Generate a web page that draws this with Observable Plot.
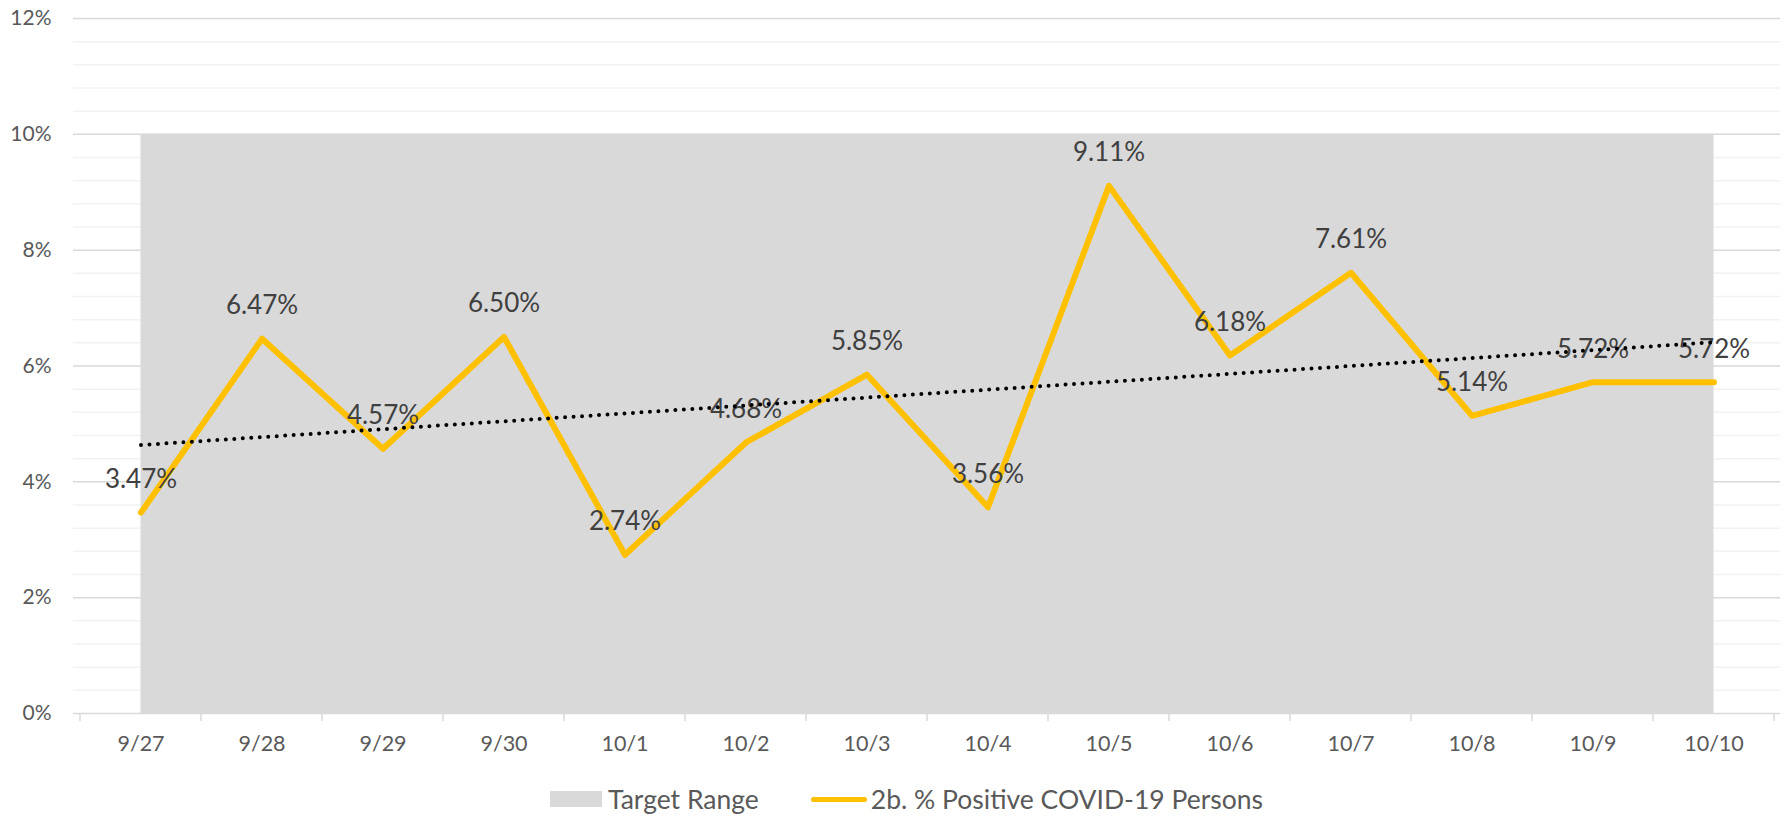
<!DOCTYPE html>
<html>
<head>
<meta charset="utf-8">
<script src="https://cdn.jsdelivr.net/npm/d3@7"></script>
<script src="https://cdn.jsdelivr.net/npm/@observablehq/plot@0.6"></script>
<style>
  html, body { margin: 0; padding: 0; background: #fff; }
  #wrap { position: relative; width: 1788px; height: 817px; font-family: Lato, "Open Sans", sans-serif; }
  #chart svg { display: block; }
  #legend { position: absolute; left: 550px; top: 783px; display: flex; align-items: center; font-size: 26.5px; color: #595959; white-space: nowrap; }
  .sw-rect { width: 52px; height: 16px; background: #D9D9D9; margin-right: 6px; }
  .sw-line { width: 56px; height: 5px; background: #FFC000; border-radius: 3px; margin-left: 52px; margin-right: 4px; }
</style>
</head>
<body>
<div id="wrap">
  <div id="chart"></div>
  <div id="legend">
    <div class="sw-rect"></div><span>Target Range</span>
    <div class="sw-line"></div><span>2b. % Positive COVID-19 Persons</span>
  </div>
</div>
<script>
const dates = ["9/27","9/28","9/29","9/30","10/1","10/2","10/3","10/4","10/5","10/6","10/7","10/8","10/9","10/10"];
const positive = [3.47, 6.47, 4.57, 6.50, 2.74, 4.68, 5.85, 3.56, 9.11, 6.18, 7.61, 5.14, 5.72, 5.72];
const targetRange = [0, 10];
const yMajorTicks = [0, 2, 4, 6, 8, 10, 12];
const yMinorTicks = [0.4, 0.8, 1.2, 1.6, 2.4, 2.8, 3.2, 3.6, 4.4, 4.8, 5.2, 5.6, 6.4, 6.8, 7.2, 7.6, 8.4, 8.8, 9.2, 9.6, 10.4, 10.8, 11.2, 11.6];

const data = dates.map((d, i) => ({date: d, value: positive[i], lo: targetRange[0], hi: targetRange[1]}));

// linear trendline (least squares on category index)
const n = positive.length;
const xs = positive.map((_, i) => i + 1);
const mx = d3.mean(xs), my = d3.mean(positive);
const slope = d3.sum(xs.map((x, i) => (x - mx) * (positive[i] - my))) / d3.sum(xs.map(x => (x - mx) ** 2));
const intercept = my - slope * mx;
const trend = dates.map((d, i) => ({date: d, value: intercept + slope * (i + 1)}));

const W = 1788, H = 770;
const chart = Plot.plot({
  width: W,
  height: H,
  marginLeft: 73,
  marginRight: 8,
  marginTop: 18,
  marginBottom: 57,
  style: {fontFamily: "Lato, 'Open Sans', sans-serif", background: "#fff"},
  x: {type: "band", domain: dates, padding: 0, label: null},
  y: {domain: [0, 12], label: null},
  marks: [
    Plot.ruleY(yMinorTicks, {stroke: "#F2F2F2", strokeWidth: 1.5}),
    Plot.ruleY(yMajorTicks, {stroke: "#D9D9D9", strokeWidth: 1.5}),
    Plot.areaY(data, {x: "date", y1: "lo", y2: "hi", fill: "#D9D9D9", curve: "linear"}),
    Plot.line(data, {x: "date", y: "value", stroke: "#FFC000", strokeWidth: 6, strokeLinejoin: "round", strokeLinecap: "round"}),
    Plot.text(data, {x: "date", y: "value", text: d => d.value.toFixed(2) + "%", dy: -33, fill: "#404040", fontSize: 26}),
    Plot.line(trend, {x: "date", y: "value", stroke: "#000", strokeWidth: 4, strokeDasharray: "0 8.5", strokeLinecap: "round"}),
    Plot.axisY({ticks: yMajorTicks, tickFormat: d => d + "%", tickSize: 0, tickPadding: 22, fontSize: 21, fill: "#595959"}),
    Plot.axisX({tickSize: 0, tickPadding: 22, fontSize: 21.5, fill: "#595959"})
  ]
});

// category boundary tick marks, placed with the plot's own scales
const xs_ = chart.scale("x"), ys_ = chart.scale("y");
const y0 = ys_.apply(0);
const bounds = dates.map(d => xs_.apply(d)).concat([xs_.apply(dates[n - 1]) + xs_.bandwidth]);
d3.select(chart).append("g")
  .selectAll("line").data(bounds).join("line")
  .attr("x1", d => d).attr("x2", d => d)
  .attr("y1", y0).attr("y2", y0 + 8)
  .attr("stroke", "#D9D9D9").attr("stroke-width", 1.5);

document.getElementById("chart").appendChild(chart);
</script>
</body>
</html>
